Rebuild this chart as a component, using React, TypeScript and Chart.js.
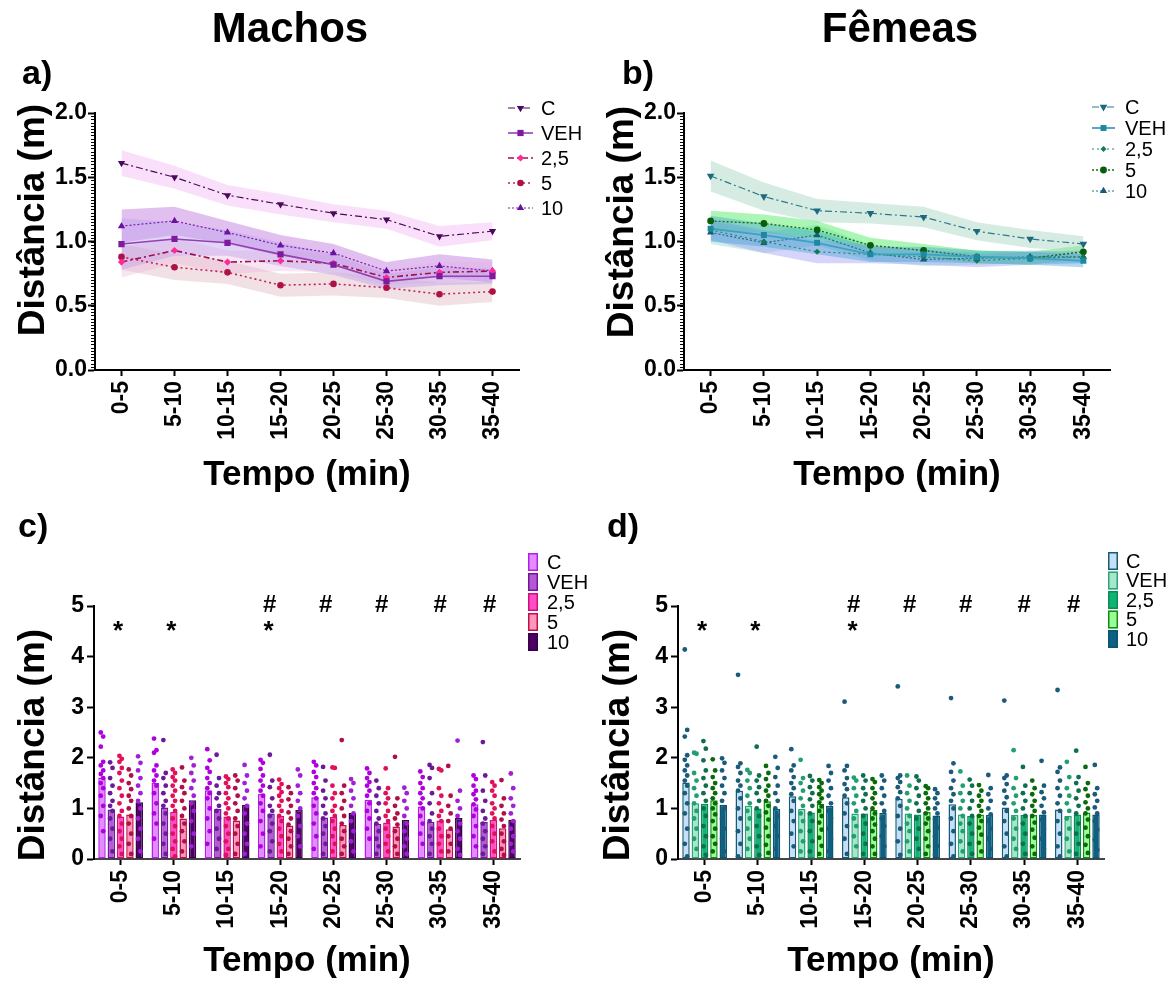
import React, { useEffect, useRef } from 'react';
import { Chart, registerables } from 'chart.js';

Chart.register(...registerables);

const FONT = "'Liberation Sans', Arial, Helvetica, sans-serif";

// ---------- categories ----------
const timeLabels = ['0-5', '5-10', '10-15', '15-20', '20-25', '25-30', '30-35', '35-40'];
const seriesLabels = ['C', 'VEH', '2,5', '5', '10'];

// ---------- Machos: means (m) ----------
const machosC = [1.61, 1.50, 1.36, 1.29, 1.22, 1.17, 1.04, 1.08];
const machosVEH = [0.98, 1.02, 0.99, 0.90, 0.82, 0.69, 0.73, 0.73];
const machos25 = [0.84, 0.93, 0.84, 0.85, 0.83, 0.72, 0.76, 0.77];
const machos5 = [0.88, 0.80, 0.76, 0.66, 0.67, 0.64, 0.59, 0.61];
const machos10 = [1.12, 1.16, 1.07, 0.97, 0.91, 0.77, 0.81, 0.77];

// ---------- Machos: SEM ----------
const machosSemC = [0.10, 0.09, 0.08, 0.08, 0.07, 0.07, 0.08, 0.07];
const machosSemVEH = [0.20, 0.13, 0.10, 0.09, 0.08, 0.06, 0.07, 0.06];
const machosSem25 = [0.12, 0.10, 0.09, 0.08, 0.07, 0.06, 0.08, 0.07];
const machosSem5 = [0.10, 0.10, 0.09, 0.09, 0.09, 0.08, 0.09, 0.08];
const machosSem10 = [0.13, 0.11, 0.09, 0.08, 0.07, 0.07, 0.09, 0.09];

// ---------- Fêmeas: means (m) ----------
const femeasC = [1.51, 1.35, 1.24, 1.22, 1.19, 1.08, 1.02, 0.98];
const femeasVEH = [1.10, 1.05, 0.99, 0.90, 0.90, 0.88, 0.87, 0.85];
const femeas25 = [1.09, 1.00, 0.92, 0.90, 0.88, 0.85, 0.87, 0.88];
const femeas5 = [1.16, 1.14, 1.09, 0.97, 0.93, 0.88, 0.87, 0.92];
const femeas10 = [1.07, 0.99, 1.05, 0.91, 0.86, 0.87, 0.88, 0.88];

// ---------- Fêmeas: SEM ----------
const femeasSemC = [0.12, 0.11, 0.09, 0.08, 0.08, 0.07, 0.07, 0.06];
const femeasSemVEH = [0.10, 0.09, 0.09, 0.06, 0.06, 0.05, 0.05, 0.05];
const femeasSem25 = [0.08, 0.09, 0.09, 0.07, 0.06, 0.05, 0.05, 0.05];
const femeasSem5 = [0.08, 0.07, 0.07, 0.06, 0.05, 0.05, 0.05, 0.05];
const femeasSem10 = [0.09, 0.08, 0.08, 0.06, 0.05, 0.05, 0.05, 0.05];

// ---------- Machos: individual animals ----------
const dotsMachosC = [
  [2.50, 2.42, 2.22, 1.92, 1.85, 1.75, 1.68, 1.60, 1.50, 1.40, 1.25, 1.05, 0.85, 0.55],
  [2.38, 2.15, 2.10, 1.85, 1.75, 1.65, 1.55, 1.45, 1.30, 1.10, 0.90, 0.70, 0.40],
  [2.17, 1.95, 1.80, 1.72, 1.60, 1.50, 1.40, 1.30, 1.20, 1.00, 0.80, 0.55, 0.30],
  [1.96, 1.90, 1.78, 1.65, 1.55, 1.45, 1.35, 1.25, 1.10, 0.95, 0.75, 0.50, 0.25],
  [1.92, 1.85, 1.72, 1.62, 1.50, 1.40, 1.30, 1.20, 1.05, 0.90, 0.70, 0.45, 0.20],
  [1.79, 1.70, 1.60, 1.52, 1.45, 1.35, 1.25, 1.10, 0.95, 0.80, 0.60, 0.40],
  [1.73, 1.62, 1.50, 1.40, 1.30, 1.20, 1.10, 1.00, 0.85, 0.70, 0.50, 0.30],
  [1.65, 1.58, 1.45, 1.35, 1.28, 1.18, 1.08, 0.98, 0.85, 0.65, 0.45, 0.25],
];
const dotsMachosVEH = [
  [1.91, 1.80, 1.60, 1.45, 1.30, 1.15, 1.05, 0.95, 0.80, 0.60, 0.40, 0.15],
  [2.35, 1.70, 1.60, 1.45, 1.30, 1.15, 1.05, 0.90, 0.70, 0.50, 0.30, 0.10],
  [2.06, 1.60, 1.45, 1.30, 1.20, 1.05, 0.95, 0.80, 0.60, 0.40, 0.20],
  [2.06, 1.55, 1.42, 1.20, 1.05, 0.95, 0.85, 0.70, 0.55, 0.35, 0.15],
  [1.82, 1.55, 1.35, 1.20, 1.05, 0.90, 0.80, 0.65, 0.50, 0.30, 0.10],
  [1.55, 1.40, 1.25, 1.10, 0.95, 0.80, 0.70, 0.55, 0.40, 0.25, 0.10],
  [1.86, 1.80, 1.60, 1.30, 1.10, 0.90, 0.75, 0.60, 0.45, 0.30, 0.10],
  [2.31, 1.65, 1.35, 1.15, 0.95, 0.80, 0.70, 0.55, 0.40, 0.25, 0.10],
];
const dotsMachos25 = [
  [2.04, 1.98, 1.92, 1.80, 1.70, 1.55, 1.40, 1.25, 1.10, 0.95, 0.85, 0.70, 0.55, 0.40, 0.25, 0.10],
  [1.77, 1.70, 1.62, 1.55, 1.45, 1.35, 1.25, 1.15, 1.05, 0.95, 0.80, 0.65, 0.50, 0.35, 0.20, 0.05],
  [1.63, 1.58, 1.50, 1.42, 1.30, 1.20, 1.10, 1.00, 0.90, 0.80, 0.65, 0.50, 0.35, 0.20, 0.08],
  [1.57, 1.48, 1.40, 1.32, 1.25, 1.15, 1.05, 0.95, 0.85, 0.75, 0.60, 0.45, 0.30, 0.15],
  [1.81, 1.80, 1.45, 1.30, 1.20, 1.05, 0.95, 0.85, 0.75, 0.60, 0.45, 0.30, 0.15],
  [1.79, 1.40, 1.30, 1.20, 1.10, 0.95, 0.85, 0.75, 0.60, 0.45, 0.30, 0.15],
  [1.78, 1.75, 1.40, 1.25, 1.10, 0.95, 0.85, 0.75, 0.60, 0.45, 0.30, 0.15],
  [1.52, 1.45, 1.35, 1.25, 1.10, 1.00, 0.90, 0.80, 0.65, 0.50, 0.35, 0.15],
];
const dotsMachos5 = [
  [1.77, 1.65, 1.50, 1.38, 1.25, 1.15, 1.00, 0.85, 0.70, 0.50, 0.30, 0.10],
  [1.81, 1.55, 1.42, 1.30, 1.15, 1.00, 0.85, 0.70, 0.55, 0.35, 0.15],
  [1.65, 1.55, 1.40, 1.25, 1.10, 0.95, 0.80, 0.65, 0.50, 0.30, 0.10],
  [1.42, 1.30, 1.18, 1.05, 0.92, 0.80, 0.68, 0.55, 0.40, 0.25, 0.10],
  [2.35, 1.45, 1.30, 1.15, 1.00, 0.85, 0.70, 0.55, 0.40, 0.25, 0.10],
  [2.02, 1.20, 1.05, 0.90, 0.80, 0.68, 0.55, 0.40, 0.25, 0.10],
  [1.84, 1.25, 1.05, 0.90, 0.75, 0.60, 0.45, 0.30, 0.15],
  [1.56, 1.20, 1.05, 0.90, 0.78, 0.65, 0.50, 0.35, 0.20, 0.08],
];
const dotsMachos10 = [
  [2.03, 1.90, 1.75, 1.60, 1.45, 1.30, 1.15, 1.00, 0.80, 0.60, 0.40, 0.15],
  [2.00, 1.85, 1.70, 1.55, 1.40, 1.25, 1.10, 0.95, 0.75, 0.50, 0.25],
  [1.86, 1.65, 1.50, 1.35, 1.20, 1.05, 0.90, 0.70, 0.50, 0.30, 0.10],
  [1.77, 1.65, 1.45, 1.30, 1.15, 1.00, 0.85, 0.65, 0.45, 0.25],
  [1.58, 1.50, 1.35, 1.20, 1.05, 0.90, 0.75, 0.55, 0.35, 0.15],
  [1.41, 1.30, 1.15, 1.00, 0.85, 0.70, 0.55, 0.40, 0.25, 0.10],
  [2.34, 1.35, 1.15, 1.00, 0.85, 0.70, 0.55, 0.40, 0.20, 0.08],
  [1.69, 1.40, 1.20, 1.05, 0.90, 0.75, 0.60, 0.45, 0.30, 0.15],
];

// ---------- Fêmeas: individual animals ----------
const dotsFemeasC = [
  [4.14, 2.55, 2.42, 2.05, 1.96, 1.85, 1.75, 1.65, 1.55, 1.45, 1.30, 1.10, 0.90, 0.60, 0.30, 0.05],
  [3.64, 1.89, 1.82, 1.70, 1.55, 1.45, 1.35, 1.20, 1.00, 0.80, 0.55, 0.30, 0.05],
  [2.17, 1.85, 1.75, 1.62, 1.50, 1.40, 1.28, 1.15, 0.95, 0.75, 0.50, 0.25],
  [3.11, 1.84, 1.75, 1.60, 1.48, 1.38, 1.25, 1.10, 0.90, 0.65, 0.40, 0.10],
  [3.41, 1.65, 1.60, 1.52, 1.42, 1.32, 1.20, 1.05, 0.85, 0.60, 0.35, 0.08],
  [3.18, 1.89, 1.72, 1.55, 1.40, 1.28, 1.15, 1.00, 0.80, 0.55, 0.30, 0.05],
  [3.13, 1.65, 1.60, 1.48, 1.35, 1.22, 1.10, 0.95, 0.75, 0.50, 0.25, 0.05],
  [3.34, 1.81, 1.72, 1.55, 1.40, 1.25, 1.10, 0.95, 0.75, 0.50, 0.25, 0.05],
];
const dotsFemeasVEH = [
  [2.10, 2.08, 1.70, 1.55, 1.40, 1.25, 1.10, 0.95, 0.80, 0.60, 0.40, 0.20],
  [1.76, 1.70, 1.55, 1.40, 1.25, 1.10, 0.95, 0.80, 0.60, 0.40, 0.20],
  [1.96, 1.60, 1.50, 1.35, 1.20, 1.05, 0.90, 0.75, 0.55, 0.35, 0.15],
  [1.61, 1.55, 1.40, 1.25, 1.10, 0.95, 0.80, 0.65, 0.45, 0.25],
  [1.65, 1.45, 1.30, 1.15, 1.00, 0.85, 0.70, 0.55, 0.35, 0.15],
  [1.73, 1.45, 1.30, 1.15, 1.00, 0.85, 0.70, 0.55, 0.35, 0.15],
  [2.15, 1.60, 1.40, 1.25, 1.10, 0.95, 0.80, 0.60, 0.40, 0.20],
  [1.92, 1.62, 1.40, 1.25, 1.10, 0.95, 0.80, 0.60, 0.40, 0.15],
];
const dotsFemeas25 = [
  [2.33, 2.18, 1.95, 1.75, 1.60, 1.45, 1.30, 1.15, 1.00, 0.85, 0.65, 0.45, 0.25, 0.08],
  [2.22, 1.65, 1.55, 1.42, 1.30, 1.15, 1.00, 0.85, 0.65, 0.45, 0.25, 0.08],
  [1.64, 1.55, 1.42, 1.30, 1.18, 1.05, 0.90, 0.75, 0.55, 0.35, 0.15],
  [1.65, 1.55, 1.40, 1.28, 1.15, 1.00, 0.85, 0.70, 0.50, 0.30, 0.10],
  [1.63, 1.55, 1.40, 1.25, 1.10, 0.95, 0.80, 0.60, 0.40, 0.20],
  [1.57, 1.45, 1.30, 1.15, 1.00, 0.85, 0.70, 0.50, 0.30, 0.10],
  [1.82, 1.45, 1.30, 1.15, 1.00, 0.85, 0.70, 0.50, 0.30, 0.10],
  [2.14, 1.62, 1.50, 1.35, 1.20, 1.05, 0.90, 0.70, 0.50, 0.30, 0.10],
];
const dotsFemeas5 = [
  [1.97, 1.75, 1.62, 1.50, 1.40, 1.30, 1.20, 1.10, 1.00, 0.88, 0.75, 0.60, 0.45, 0.30, 0.15],
  [1.84, 1.70, 1.58, 1.45, 1.35, 1.25, 1.15, 1.05, 0.92, 0.78, 0.62, 0.45, 0.28, 0.12],
  [1.56, 1.50, 1.42, 1.35, 1.28, 1.20, 1.12, 1.04, 0.95, 0.85, 0.72, 0.58, 0.42, 0.26, 0.10],
  [1.58, 1.52, 1.40, 1.30, 1.20, 1.10, 1.00, 0.90, 0.80, 0.68, 0.55, 0.40, 0.25, 0.10],
  [1.44, 1.40, 1.30, 1.20, 1.10, 1.00, 0.90, 0.80, 0.70, 0.55, 0.40, 0.25, 0.10],
  [1.46, 1.35, 1.25, 1.15, 1.05, 0.95, 0.85, 0.75, 0.62, 0.48, 0.32, 0.15],
  [1.55, 1.40, 1.28, 1.15, 1.05, 0.95, 0.85, 0.72, 0.58, 0.42, 0.25, 0.10],
  [1.82, 1.50, 1.38, 1.25, 1.12, 1.00, 0.90, 0.78, 0.62, 0.45, 0.28, 0.12],
];
const dotsFemeas10 = [
  [1.99, 1.90, 1.75, 1.60, 1.45, 1.30, 1.15, 1.00, 0.80, 0.60, 0.40, 0.15],
  [2.02, 1.80, 1.62, 1.45, 1.30, 1.15, 1.00, 0.85, 0.65, 0.45, 0.20],
  [1.84, 1.70, 1.55, 1.40, 1.25, 1.10, 0.95, 0.80, 0.60, 0.40, 0.15],
  [1.65, 1.55, 1.40, 1.25, 1.10, 0.95, 0.80, 0.65, 0.45, 0.25],
  [1.38, 1.30, 1.20, 1.10, 1.00, 0.90, 0.78, 0.62, 0.45, 0.25, 0.08],
  [1.66, 1.40, 1.28, 1.15, 1.00, 0.88, 0.75, 0.60, 0.40, 0.20],
  [1.94, 1.45, 1.32, 1.20, 1.05, 0.92, 0.78, 0.60, 0.40, 0.20],
  [1.86, 1.40, 1.28, 1.15, 1.02, 0.90, 0.75, 0.58, 0.38, 0.18],
];

// ---------- significance marks (x in category units, y in m) ----------
const starX = [-0.05, 0.95, 2.78];
const starY = 4.6;
const hashX = [2.8, 3.85, 4.9, 6.0, 6.93];
const hashY = 5.02;

// ---------- styles ----------
const machosLineStyles = [
  { marker: '#4a0a5c', line: '#4a0a5c', dash: [7, 3, 2, 3], width: 1.2, style: 'triangle', rot: 180, r: 4.2, band: 'rgba(246,196,248,0.55)' },
  { marker: '#7d1a9e', line: '#9440b4', dash: [], width: 1.6, style: 'rect', rot: 0, r: 4.4, band: 'rgba(190,160,235,0.45)' },
  { marker: '#ff2a9a', line: '#a0104e', dash: [6, 3, 2, 3], width: 1.6, style: 'rectRot', rot: 0, r: 3.6, band: 'rgba(228,170,215,0.30)' },
  { marker: '#b01048', line: '#c8205a', dash: [2, 3], width: 1.6, style: 'circle', rot: 0, r: 3.3, band: 'rgba(218,175,185,0.38)' },
  { marker: '#6a12a0', line: '#7a20b0', dash: [2, 2], width: 1.2, style: 'triangle', rot: 0, r: 4.2, band: 'rgba(175,90,215,0.38)' },
];
const femeasLineStyles = [
  { marker: '#1c6a80', line: '#2a7a8a', dash: [7, 3, 2, 3], width: 1.2, style: 'triangle', rot: 180, r: 4.4, band: 'rgba(165,212,192,0.45)' },
  { marker: '#1b8aa0', line: '#3aa4bc', dash: [], width: 1.8, style: 'rect', rot: 0, r: 4.2, band: 'rgba(60,160,210,0.40)' },
  { marker: '#157a4e', line: '#2a8a60', dash: [2, 3], width: 1.2, style: 'rectRot', rot: 0, r: 3.0, band: 'rgba(150,150,245,0.40)' },
  { marker: '#0a5e0a', line: '#1a6e1a', dash: [2, 2], width: 1.4, style: 'circle', rot: 0, r: 3.4, band: 'rgba(70,235,90,0.45)' },
  { marker: '#175a7c', line: '#2a6a8a', dash: [2, 2], width: 1.2, style: 'triangle', rot: 0, r: 4.2, band: 'rgba(90,200,190,0.30)' },
];
const machosBarStyles = [
  { fill: '#e28cff', border: '#b61ee6', dot: '#b000e0' },
  { fill: '#b45ad2', border: '#74169c', dot: '#6a1a9a' },
  { fill: '#ff4cc8', border: '#d0107a', dot: '#e0105a' },
  { fill: '#ff96bd', border: '#c0104a', dot: '#b01048' },
  { fill: '#4c0063', border: '#3a004c', dot: '#a020d8' },
];
const femeasBarStyles = [
  { fill: '#c6e0f7', border: '#175b78', dot: '#1a5a7a' },
  { fill: '#a6e6cc', border: '#2aa575', dot: '#20a070' },
  { fill: '#10b472', border: '#0e8a58', dot: '#0e6e4e' },
  { fill: '#98ff98', border: '#148c14', dot: '#0a6a0a' },
  { fill: '#0b6282', border: '#0b5572', dot: '#1a5a7a' },
];

// ---------- drawing helpers ----------
function drawMarker(ctx: CanvasRenderingContext2D, style: string, x: number, y: number, r: number, rot: number, color: string) {
  ctx.save();
  ctx.fillStyle = color;
  ctx.translate(x, y);
  ctx.rotate((rot * Math.PI) / 180);
  ctx.beginPath();
  if (style === 'circle') ctx.arc(0, 0, r, 0, Math.PI * 2);
  else if (style === 'rect') {
    const s = r * Math.SQRT1_2;
    ctx.rect(-s, -s, 2 * s, 2 * s);
  } else if (style === 'rectRot') {
    ctx.moveTo(0, -r); ctx.lineTo(r, 0); ctx.lineTo(0, r); ctx.lineTo(-r, 0); ctx.closePath();
  } else {
    ctx.moveTo(0, -r); ctx.lineTo(r * 0.866, r * 0.5); ctx.lineTo(-r * 0.866, r * 0.5); ctx.closePath();
  }
  ctx.fill();
  ctx.restore();
}

const lineLegendPlugin = {
  id: 'lineLegend',
  afterDraw(chart: any, _a: any, opts: any) {
    const ctx = chart.ctx as CanvasRenderingContext2D;
    ctx.save();
    opts.items.forEach((it: any, i: number) => {
      const y = opts.y0 + i * opts.dy;
      ctx.strokeStyle = it.line;
      ctx.lineWidth = it.width;
      ctx.setLineDash(it.dash);
      ctx.beginPath();
      ctx.moveTo(opts.x0, y);
      ctx.lineTo(opts.x0 + opts.len, y);
      ctx.stroke();
      ctx.setLineDash([]);
      drawMarker(ctx, it.style, opts.x0 + opts.len / 2, y, it.r, it.rot, it.marker);
      ctx.fillStyle = '#000';
      ctx.font = `20px ${FONT}`;
      ctx.textBaseline = 'middle';
      ctx.textAlign = 'left';
      ctx.fillText(it.label, opts.tx, y + 1);
    });
    ctx.restore();
  },
};

const minorTicksPlugin = {
  id: 'minorTicks',
  afterDraw(chart: any, _a: any, opts: any) {
    if (!opts || !opts.step) return;
    const ys = chart.scales.y;
    const ctx = chart.ctx as CanvasRenderingContext2D;
    const x0 = chart.chartArea.left;
    ctx.save();
    ctx.strokeStyle = '#000';
    ctx.lineWidth = 1;
    const n = Math.round((ys.max - ys.min) / opts.step);
    for (let k = 0; k <= n; k++) {
      const py = Math.round(ys.getPixelForValue(ys.min + k * opts.step)) + 0.5;
      ctx.beginPath();
      ctx.moveTo(x0 - 1, py);
      ctx.lineTo(x0 - opts.len, py);
      ctx.stroke();
    }
    ctx.restore();
  },
};

const dotsPlugin = {
  id: 'dots',
  afterDatasetsDraw(chart: any, _a: any, opts: any) {
    const ctx = chart.ctx as CanvasRenderingContext2D;
    const ys = chart.scales.y;
    ctx.save();
    opts.sets.forEach((set: any, di: number) => {
      const meta = chart.getDatasetMeta(di);
      ctx.fillStyle = set.color;
      meta.data.forEach((el: any, gi: number) => {
        (set.values[gi] || []).forEach((v: number, k: number) => {
          const dx = k % 2 ? 1.2 : -1.2;
          ctx.beginPath();
          ctx.arc(el.x + dx, ys.getPixelForValue(v), 2.4, 0, Math.PI * 2);
          ctx.fill();
        });
      });
    });
    ctx.restore();
  },
};

const marksPlugin = {
  id: 'marks',
  afterDraw(chart: any) {
    const ctx = chart.ctx as CanvasRenderingContext2D;
    const xs = chart.scales.x;
    const ys = chart.scales.y;
    ctx.save();
    ctx.fillStyle = '#000';
    ctx.textAlign = 'center';
    ctx.textBaseline = 'middle';
    ctx.font = `bold 26px ${FONT}`;
    starX.forEach((x) => ctx.fillText('*', xs.getPixelForValue(x), ys.getPixelForValue(starY) + 6));
    ctx.font = `bold 24px ${FONT}`;
    hashX.forEach((x) => ctx.fillText('#', xs.getPixelForValue(x), ys.getPixelForValue(hashY)));
    ctx.restore();
  },
};

const barLegendPlugin = {
  id: 'barLegend',
  afterDraw(chart: any, _a: any, opts: any) {
    const ctx = chart.ctx as CanvasRenderingContext2D;
    ctx.save();
    opts.items.forEach((it: any, i: number) => {
      const y = opts.y0 + i * opts.dy;
      ctx.fillStyle = it.fill;
      ctx.fillRect(opts.x0, y - 9, 10, 18);
      ctx.strokeStyle = it.border;
      ctx.lineWidth = 1.5;
      ctx.strokeRect(opts.x0 + 0.75, y - 8.25, 8.5, 16.5);
      ctx.fillStyle = '#000';
      ctx.font = `20px ${FONT}`;
      ctx.textBaseline = 'middle';
      ctx.textAlign = 'left';
      ctx.fillText(it.label, opts.tx, y + 1);
    });
    ctx.restore();
  },
};

const tickFont = { family: FONT, size: 23, weight: 'bold' as const };
const axisTitleFont = { family: FONT, size: 35, weight: 'bold' as const };

function lineConfig(means: number[][], sems: number[][], styles: any[], area: any, legend: any) {
  const datasets: any[] = [];
  means.forEach((m, i) => {
    datasets.push({
      label: seriesLabels[i] + ' +', data: m.map((v, k) => v + sems[i][k]),
      borderWidth: 0, pointRadius: 0, fill: false, backgroundColor: 'transparent', order: 10,
    });
    datasets.push({
      label: seriesLabels[i] + ' -', data: m.map((v, k) => v - sems[i][k]),
      borderWidth: 0, pointRadius: 0, fill: '-1', backgroundColor: styles[i].band, order: 10,
    });
  });
  means.forEach((m, i) => {
    const s = styles[i];
    datasets.push({
      label: seriesLabels[i], data: m, borderColor: s.line, borderWidth: s.width, borderDash: s.dash,
      pointStyle: s.style, pointRotation: s.rot, pointRadius: s.r, pointBackgroundColor: s.marker,
      pointBorderColor: s.marker, pointBorderWidth: 0, fill: false, tension: 0, order: 1,
    });
  });
  return {
    type: 'line',
    data: { labels: timeLabels, datasets },
    options: {
      responsive: false,
      animation: false,
      events: [],
      layout: { padding: { left: 0, top: area.top, right: area.right, bottom: 0 } },
      scales: {
        x: {
          type: 'category', offset: true,
          grid: { display: true, drawOnChartArea: false, tickLength: 6, tickColor: '#000', tickWidth: 2, color: '#000' },
          border: { display: true, color: '#000', width: 2 },
          ticks: { font: tickFont, color: '#000', minRotation: 90, maxRotation: 90, padding: 5, autoSkip: false },
          title: { display: true, text: 'Tempo (min)', font: axisTitleFont, color: '#000', padding: { top: 0, bottom: 4 } },
          afterFit: (s: any) => { s.height = area.xh; },
        },
        y: {
          min: 0, max: 2,
          grid: { display: true, drawOnChartArea: false, tickLength: 7, tickColor: '#000', tickWidth: 2, color: '#000' },
          border: { display: true, color: '#000', width: 2 },
          ticks: { stepSize: 0.5, font: tickFont, color: '#000', padding: 1, callback: (v: any) => Number(v).toFixed(1) },
          afterFit: (s: any) => { s.width = area.yw; },
        },
      },
      plugins: {
        legend: { display: false },
        tooltip: { enabled: false },
        filler: { drawTime: 'beforeDatasetsDraw', propagate: false },
        lineLegend: legend,
        minorTicks: { step: 0.025, len: 4 },
      },
    },
    plugins: [lineLegendPlugin, minorTicksPlugin],
  };
}

function barConfig(means: number[][], dots: number[][][], styles: any[], area: any, legend: any) {
  const datasets = means.map((m, i) => ({
    label: seriesLabels[i], data: m, backgroundColor: styles[i].fill, borderColor: styles[i].border,
    borderWidth: 1.5, borderSkipped: false, categoryPercentage: 0.875, barPercentage: 0.8,
  }));
  return {
    type: 'bar',
    data: { labels: timeLabels, datasets },
    options: {
      responsive: false,
      animation: false,
      events: [],
      layout: { padding: { left: 0, top: area.top, right: area.right, bottom: 0 } },
      scales: {
        x: {
          type: 'category', offset: true,
          grid: { display: true, drawOnChartArea: false, offset: false, tickLength: 6, tickColor: '#000', tickWidth: 2, color: '#000' },
          border: { display: true, color: '#444', width: 2 },
          ticks: { font: tickFont, color: '#000', minRotation: 90, maxRotation: 90, padding: 5, autoSkip: false },
          title: { display: true, text: 'Tempo (min)', font: axisTitleFont, color: '#000', padding: { top: 0, bottom: 0 } },
          afterFit: (s: any) => { s.height = area.xh; },
        },
        y: {
          min: 0, max: 5,
          grid: { display: true, drawOnChartArea: false, tickLength: 7, tickColor: '#000', tickWidth: 2, color: '#000' },
          border: { display: true, color: '#000', width: 2 },
          ticks: { stepSize: 1, font: tickFont, color: '#000', padding: 3 },
          afterFit: (s: any) => { s.width = area.yw; },
        },
      },
      plugins: {
        legend: { display: false },
        tooltip: { enabled: false },
        dots: { sets: styles.map((s, i) => ({ color: s.dot, values: dots[i] })) },
        barLegend: legend,
      },
    },
    plugins: [dotsPlugin, marksPlugin, barLegendPlugin],
  };
}

function ChartCanvas({ config, left, top, width, height }: any) {
  const ref = useRef<HTMLCanvasElement | null>(null);
  useEffect(() => {
    if (!ref.current) return;
    const chart = new Chart(ref.current, config);
    return () => chart.destroy();
  }, []);
  return (
    <canvas
      ref={ref}
      width={width}
      height={height}
      style={{ position: 'absolute', left, top, width, height }}
    />
  );
}

function Label({ text, x, y, size, rotate, center }: any) {
  return (
    <div
      style={{
        position: 'absolute', left: x, top: y, fontFamily: FONT, fontWeight: 'bold', fontSize: size,
        lineHeight: 1, whiteSpace: 'nowrap', color: '#000',
        transform: `${center ? 'translate(-50%,-50%)' : 'translate(0,-50%)'}${rotate ? ' rotate(-90deg)' : ''}`,
      }}
    >
      {text}
    </div>
  );
}

export default function App() {
  const machosMeans = [machosC, machosVEH, machos25, machos5, machos10];
  const machosSems = [machosSemC, machosSemVEH, machosSem25, machosSem5, machosSem10];
  const femeasMeans = [femeasC, femeasVEH, femeas25, femeas5, femeas10];
  const femeasSems = [femeasSemC, femeasSemVEH, femeasSem25, femeasSem5, femeasSem10];
  const machosDots = [dotsMachosC, dotsMachosVEH, dotsMachos25, dotsMachos5, dotsMachos10];
  const femeasDots = [dotsFemeasC, dotsFemeasVEH, dotsFemeas25, dotsFemeas5, dotsFemeas10];

  const legendItems = (styles: any[]) => styles.map((s, i) => ({ ...s, label: seriesLabels[i] }));

  const cfgA = lineConfig(machosMeans, machosSems, machosLineStyles,
    { top: 63, right: 71, xh: 130, yw: 95 },
    { items: legendItems(machosLineStyles), x0: 508, len: 25, tx: 541, y0: 58, dy: 25 });
  const cfgB = lineConfig(femeasMeans, femeasSems, femeasLineStyles,
    { top: 63, right: 66, xh: 130, yw: 95 },
    { items: legendItems(femeasLineStyles), x0: 503, len: 23, tx: 536, y0: 57, dy: 21 });
  const cfgC = barConfig(machosMeans, machosDots, machosBarStyles,
    { top: 106, right: 70, xh: 123, yw: 94 },
    { items: legendItems(machosBarStyles), x0: 528, tx: 547, y0: 62, dy: 20 });
  const cfgD = barConfig(femeasMeans, femeasDots, femeasBarStyles,
    { top: 106, right: 72, xh: 123, yw: 89 },
    { items: legendItems(femeasBarStyles), x0: 519, tx: 537, y0: 61, dy: 19.5 });

  return (
    <div style={{ position: 'absolute', left: 0, top: 0, width: 1176, height: 982, background: '#fff', overflow: 'hidden' }}>
      <ChartCanvas config={cfgA} left={0} top={50} width={590} height={450} />
      <ChartCanvas config={cfgB} left={589} top={50} width={587} height={450} />
      <ChartCanvas config={cfgC} left={0} top={500} width={590} height={482} />
      <ChartCanvas config={cfgD} left={589} top={500} width={587} height={482} />
      <Label text="Machos" x={290} y={28} size={42} center />
      <Label text="Fêmeas" x={900} y={28} size={42} center />
      <Label text="a)" x={22} y={72} size={34} />
      <Label text="b)" x={622} y={72} size={34} />
      <Label text="c)" x={18} y={525} size={34} />
      <Label text="d)" x={607} y={525} size={34} />
      <Label text="Distância (m)" x={31} y={220} size={37} rotate center />
      <Label text="Distância (m)" x={620} y={222} size={37} rotate center />
      <Label text="Distância (m)" x={31} y={745} size={37} rotate center />
      <Label text="Distância (m)" x={616} y={745} size={37} rotate center />
    </div>
  );
}
